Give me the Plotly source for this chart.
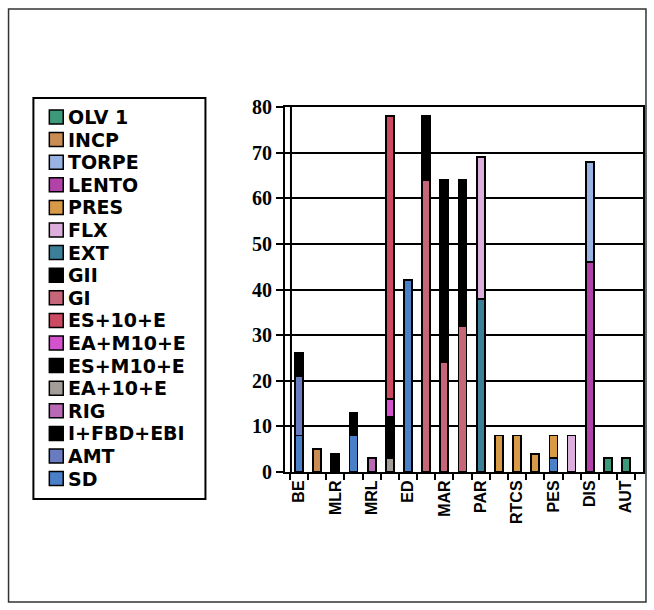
import plotly.graph_objects as go

# Category slots (19 columns); only every other slot carries a label
n_categories = 19
tick_positions = [0, 2, 4, 6, 8, 10, 12, 14, 16, 18]
tick_labels = ["BE", "MLR", "MRL", "ED", "MAR", "PAR", "RTCS", "PES", "DIS", "AUT"]

# Series values per column, listed in stacking order (bottom first)
sd        = [8, 0, 0, 8, 0, 0, 42, 0, 0, 0, 0, 0, 0, 0, 3, 0, 0, 0, 0]
amt       = [13, 0, 0, 0, 0, 0, 0, 0, 0, 0, 0, 0, 0, 0, 0, 0, 0, 0, 0]
i_fbd_ebi = [5, 0, 4, 5, 0, 0, 0, 0, 0, 0, 0, 0, 0, 0, 0, 0, 0, 0, 0]
rig       = [0, 0, 0, 0, 3, 0, 0, 0, 0, 0, 0, 0, 0, 0, 0, 0, 0, 0, 0]
ea_10_e   = [0, 0, 0, 0, 0, 3, 0, 0, 0, 0, 0, 0, 0, 0, 0, 0, 0, 0, 0]
es_m10_e  = [0, 0, 0, 0, 0, 9, 0, 0, 0, 0, 0, 0, 0, 0, 0, 0, 0, 0, 0]
ea_m10_e  = [0, 0, 0, 0, 0, 4, 0, 0, 0, 0, 0, 0, 0, 0, 0, 0, 0, 0, 0]
es_10_e   = [0, 0, 0, 0, 0, 62, 0, 0, 0, 0, 0, 0, 0, 0, 0, 0, 0, 0, 0]
gi        = [0, 0, 0, 0, 0, 0, 0, 64, 24, 32, 0, 0, 0, 0, 0, 0, 0, 0, 0]
gii       = [0, 0, 0, 0, 0, 0, 0, 14, 40, 32, 0, 0, 0, 0, 0, 0, 0, 0, 0]
ext       = [0, 0, 0, 0, 0, 0, 0, 0, 0, 0, 38, 0, 0, 0, 0, 0, 0, 0, 0]
flx       = [0, 0, 0, 0, 0, 0, 0, 0, 0, 0, 31, 0, 0, 0, 0, 8, 0, 0, 0]
pres      = [0, 0, 0, 0, 0, 0, 0, 0, 0, 0, 0, 8, 8, 4, 5, 0, 0, 0, 0]
lento     = [0, 0, 0, 0, 0, 0, 0, 0, 0, 0, 0, 0, 0, 0, 0, 0, 46, 0, 0]
torpe     = [0, 0, 0, 0, 0, 0, 0, 0, 0, 0, 0, 0, 0, 0, 0, 0, 22, 0, 0]
incp      = [0, 5, 0, 0, 0, 0, 0, 0, 0, 0, 0, 0, 0, 0, 0, 0, 0, 0, 0]
olv1      = [0, 0, 0, 0, 0, 0, 0, 0, 0, 0, 0, 0, 0, 0, 0, 0, 0, 3, 3]

series_names = ["SD", "AMT", "I+FBD+EBI", "RIG", "EA+10+E", "ES+M10+E", "EA+M10+E",
                "ES+10+E", "GI", "GII", "EXT", "FLX", "PRES", "LENTO", "TORPE",
                "INCP", "OLV 1"]
series_values = [sd, amt, i_fbd_ebi, rig, ea_10_e, es_m10_e, ea_m10_e, es_10_e,
                 gi, gii, ext, flx, pres, lento, torpe, incp, olv1]
series_colors = ["#4a80c8", "#6a7cc0", "#000000", "#b868b4", "#a39d9a", "#000000",
                 "#d452cc", "#cc4a62", "#c86679", "#000000", "#3b8098", "#dcaedb",
                 "#d99a48", "#b042a8", "#9ab2e2", "#c98c52", "#3c9a7a"]

W, H = 654, 610
L, R, T, B = 285, 9, 107, 138
PW, PH = W - L - R, H - T - B


def px(x):
    return (x - L) / PW


def py(y):
    return (H - B - y) / PH


fig = go.Figure()
x_slots = list(range(n_categories))
for name, vals, color in zip(series_names, series_values, series_colors):
    fig.add_trace(go.Bar(
        x=x_slots,
        y=[v if v else None for v in vals],
        name=name,
        width=0.44,
        marker=dict(color=color, line=dict(color="black", width=1.8)),
        showlegend=False,
    ))

shapes = []
annotations = []

# Outer frame of the chart
shapes.append(dict(type="rect", xref="paper", yref="paper",
                   x0=px(7), x1=px(648), y0=py(602), y1=py(9),
                   line=dict(color="#333333", width=1.5), fillcolor="rgba(0,0,0,0)"))

# Legend box and entries (top entry = last series)
shapes.append(dict(type="rect", xref="paper", yref="paper",
                   x0=px(32), x1=px(205), y0=py(499), y1=py(98),
                   line=dict(color="black", width=2), fillcolor="white"))
row_top, row_step = 117, 22.6
for i, (name, color) in enumerate(zip(series_names[::-1], series_colors[::-1])):
    yc = row_top + i * row_step
    shapes.append(dict(type="rect", xref="paper", yref="paper",
                       x0=px(48), x1=px(62), y0=py(yc + 7), y1=py(yc - 7),
                       line=dict(color="black", width=1.5), fillcolor=color))
    annotations.append(dict(xref="paper", yref="paper", x=px(66), y=py(yc),
                            xanchor="left", yanchor="middle", showarrow=False,
                            borderpad=0, text=name,
                            font=dict(family="DejaVu Sans", size=19,
                                      color="black", weight="bold")))

# Inner edge of the left wall
shapes.append(dict(type="line", xref="paper", yref="y",
                   x0=px(291), x1=px(291), y0=0, y1=80,
                   line=dict(color="black", width=2)))

fig.update_layout(
    width=W, height=H,
    margin=dict(l=L, r=R, t=T, b=B),
    barmode="stack",
    paper_bgcolor="white",
    plot_bgcolor="white",
    shapes=shapes,
    annotations=annotations,
    xaxis=dict(
        range=[-0.77, 18.93],
        tickmode="array", tickvals=tick_positions, ticktext=tick_labels,
        tickangle=-90, ticks="",
        tickfont=dict(family="Liberation Sans Narrow, Arial", size=16,
                      color="black", weight="bold"),
        showline=True, linecolor="black", linewidth=2, mirror=True,
        showgrid=False, zeroline=False,
        minor=dict(ticks="outside", tick0=0.5, dtick=1, ticklen=6,
                   tickwidth=1.5, tickcolor="black", showgrid=False),
    ),
    yaxis=dict(
        range=[0, 80], tickmode="linear", tick0=0, dtick=10,
        ticks="outside", ticklen=7, tickwidth=2, tickcolor="black",
        tickfont=dict(family="Liberation Serif, Times New Roman", size=20,
                      color="black", weight="bold"),
        showline=True, linecolor="black", linewidth=2, mirror=True,
        showgrid=True, gridcolor="black", gridwidth=1.8,
        zeroline=False,
    ),
)

fig.write_html("out.html")
